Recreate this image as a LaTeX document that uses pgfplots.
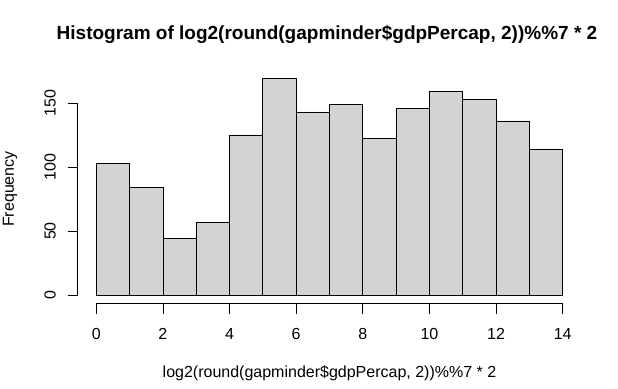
\documentclass[border=0pt]{standalone}
\usepackage{pgfplots}
\pgfplotsset{compat=1.18}
\usepackage{fontspec}
\setmainfont{Liberation Sans}
\definecolor{rgray}{RGB}{211,211,211}
\begin{document}
\begin{tikzpicture}[x=1pt,y=1pt]
\path[use as bounding box] (0,0) rectangle (618,388);
\begin{axis}[
  at={(77.6pt,84.3pt)}, anchor=south west,
  width=503.8pt, height=233.7pt, scale only axis,
  xmin=-0.56, xmax=14.56, ymin=-6.76, ymax=175.76,
  axis line style={draw=none},
  xtick={0,2,4,6,8,10,12,14},
  ytick={0,50,100,150},
  xtick pos=bottom, ytick pos=left,
  tick align=outside, major tick length=10pt,
  tick style={black, line width=0.8pt},
  /pgf/number format/assume math mode=true,
  ticklabel style={font=\fontsize{16}{19}\selectfont},
  xticklabel style={anchor=base, inner sep=0pt, yshift=-26pt},
  yticklabel style={rotate=90, anchor=base, inner sep=0pt, yshift=12pt},
  clip=false,
]
\addplot[ybar interval, fill=rgray, draw=black, line width=0.8pt] coordinates {
(0,103) (1,84) (2,44) (3,57) (4,125) (5,169) (6,143) (7,149) (8,122) (9,146) (10,159) (11,153) (12,136) (13,114) (14,114)};
\draw[line width=0.8pt] (axis cs:0,-6.76) -- (axis cs:14,-6.76);
\draw[line width=0.8pt] (axis cs:-0.56,0) -- (axis cs:-0.56,150);
\end{axis}
\node[anchor=base, inner sep=0pt, font=\bfseries\fontsize{19}{23}\selectfont] at (327,348) {Histogram of log2(round(gapminder\$gdpPercap, 2))\%\%7 * 2};
\node[anchor=base, inner sep=0pt, font=\fontsize{16}{19}\selectfont] at (329.5,10) {log2(round(gapminder\$gdpPercap, 2))\%\%7 * 2};
\node[anchor=base, inner sep=0pt, rotate=90, font=\fontsize{16}{19}\selectfont] at (14,199) {Frequency};
\end{tikzpicture}
\end{document}
